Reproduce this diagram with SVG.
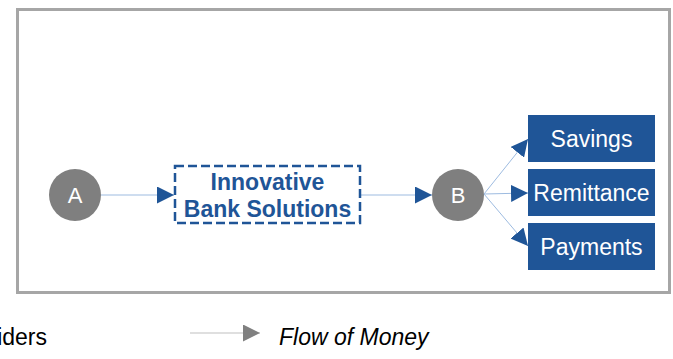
<svg xmlns="http://www.w3.org/2000/svg" width="673" height="359" viewBox="0 0 673 359">
<style>
text{font-family:"Liberation Sans",Arial,sans-serif}
.conn{stroke:#9dbbe0;stroke-width:1;fill:none}
.circ{fill:#7f7f7f}
.ctext{fill:#fff;font-size:22px;text-anchor:middle}
.box{fill:#1f5597}
.btext{fill:#fff;font-size:23px;text-anchor:middle}
.ib{fill:#1f5597;font-size:23px;font-weight:bold;text-anchor:middle}
.leg{fill:#000;font-size:23px}
</style>
<defs>
<marker id="ah" viewBox="0 0 10 10" refX="10" refY="5" markerWidth="17" markerHeight="17" markerUnits="userSpaceOnUse" orient="auto">
<path d="M0,0 L10,5 L0,10 z" fill="#1f5597"/>
</marker>
<marker id="ahg" viewBox="0 0 10 10" refX="10" refY="5" markerWidth="17" markerHeight="17" markerUnits="userSpaceOnUse" orient="auto">
<path d="M0,0 L10,5 L0,10 z" fill="#808080"/>
</marker>
</defs>
<rect x="17.5" y="9.5" width="652" height="283" fill="#fff" stroke="#a6a6a6" stroke-width="3"/>
<g id="connectors">
<line class="conn" x1="101" y1="195" x2="174" y2="195" marker-end="url(#ah)"/>
<line class="conn" x1="360" y1="195" x2="432" y2="195" marker-end="url(#ah)"/>
<line class="conn" x1="484" y1="194" x2="528" y2="139" marker-end="url(#ah)"/>
<line class="conn" x1="484" y1="194" x2="528" y2="193" marker-end="url(#ah)"/>
<line class="conn" x1="484" y1="194" x2="528" y2="246" marker-end="url(#ah)"/>
</g>
<g id="nodeA">
<circle class="circ" cx="75" cy="195" r="26"/>
<text class="ctext" x="75" y="203">A</text>
</g>
<g id="nodeInnovative">
<rect x="175" y="166" width="185" height="57" fill="#fff" stroke="#1f5597" stroke-width="2.5" stroke-dasharray="9,4"/>
<text class="ib" x="267.5" y="190">Innovative</text>
<text class="ib" x="267.5" y="217">Bank Solutions</text>
</g>
<g id="nodeB">
<circle class="circ" cx="458" cy="195" r="26"/>
<text class="ctext" x="458" y="203">B</text>
</g>
<g id="nodeSavings">
<rect class="box" x="528" y="115" width="127" height="47"/>
<text class="btext" x="591.5" y="147">Savings</text>
</g>
<g id="nodeRemittance">
<rect class="box" x="528" y="169" width="127" height="47"/>
<text class="btext" x="591.5" y="201">Remittance</text>
</g>
<g id="nodePayments">
<rect class="box" x="528" y="223" width="127" height="47"/>
<text class="btext" x="591.5" y="255">Payments</text>
</g>
<g id="legend">
<text class="leg" x="47" y="345" text-anchor="end">iders</text>
<line x1="190" y1="333" x2="260" y2="333" stroke="#bfbfbf" stroke-width="1" marker-end="url(#ahg)"/>
<text class="leg" x="279" y="345" font-style="italic">Flow of Money</text>
</g>
</svg>
